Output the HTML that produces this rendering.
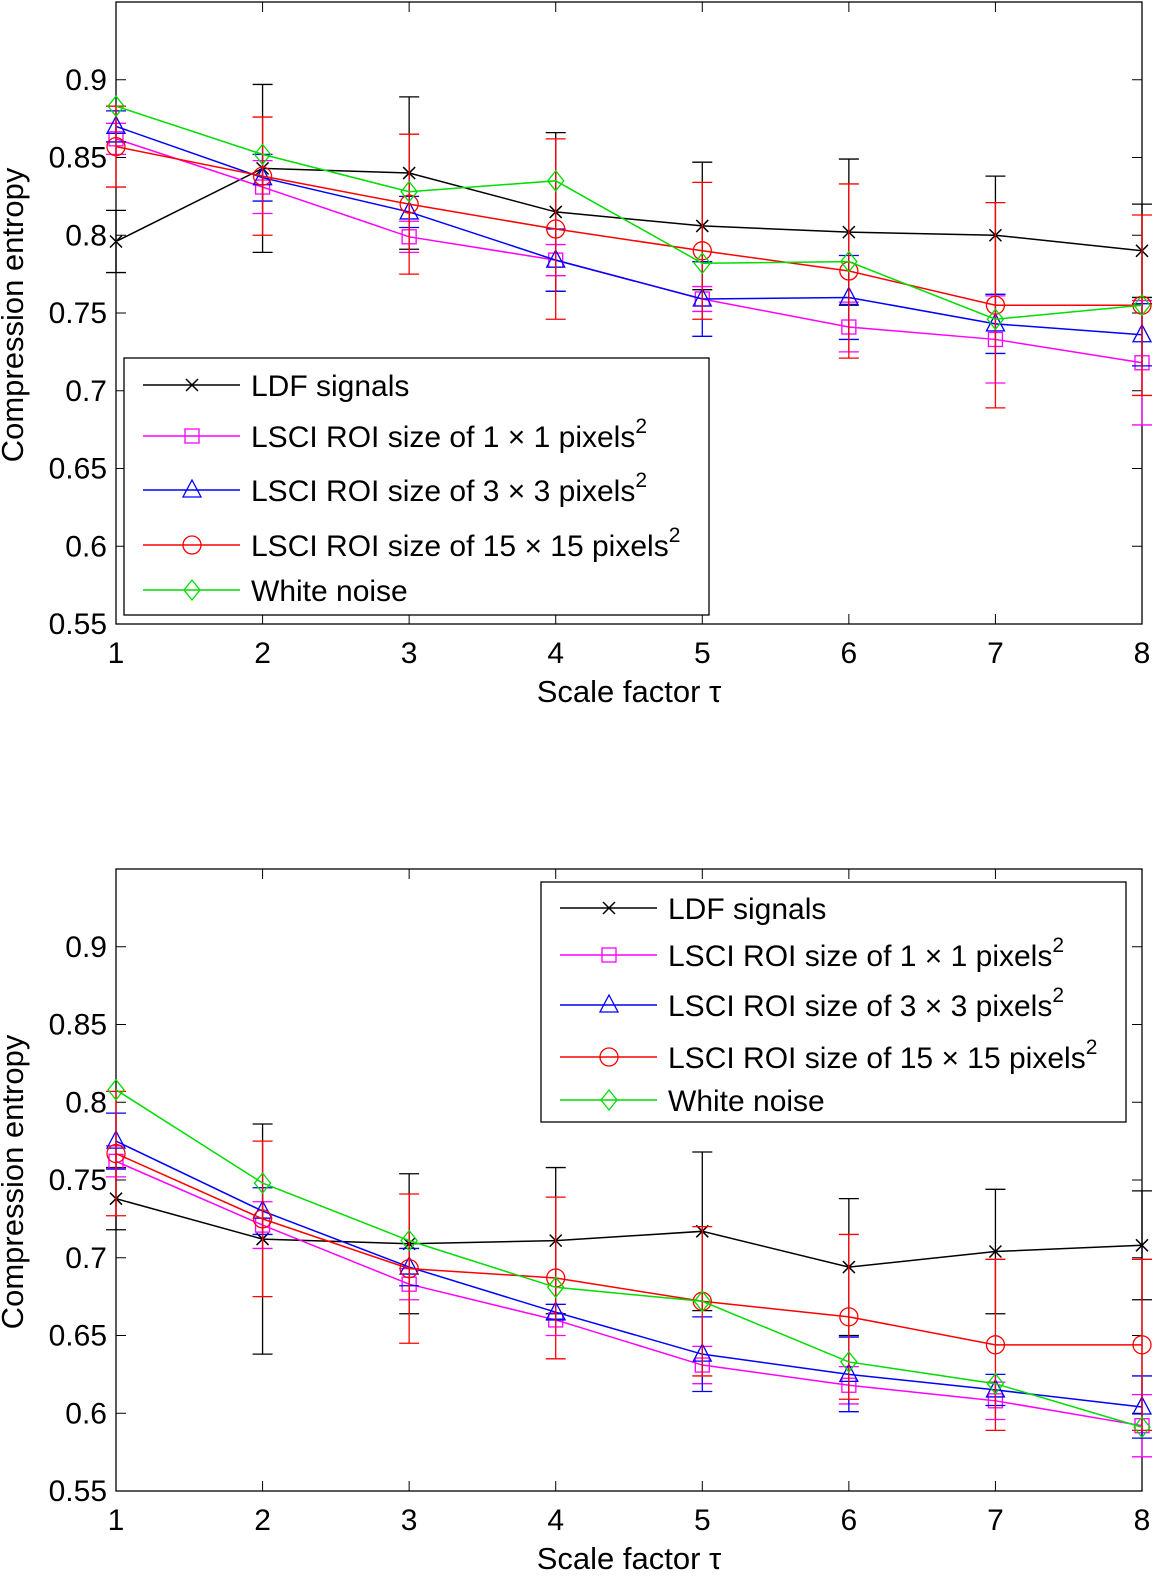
<!DOCTYPE html>
<html><head><meta charset="utf-8"><style>
html,body{margin:0;padding:0;background:#fff;}
svg{display:block;font-family:"Liberation Sans",sans-serif;}
</style></head><body>
<svg id="fig" width="1165" height="1583" viewBox="0 0 1165 1583"></svg>
<script>
const scales=[1,2,3,4,5,6,7,8];
const yTicks=[0.55,0.6,0.65,0.7,0.75,0.8,0.85,0.9];
const yTickLabels=["0.55","0.6","0.65","0.7","0.75","0.8","0.85","0.9"];
const seriesNames=["LDF signals","LSCI ROI size of 1 × 1 pixels","LSCI ROI size of 3 × 3 pixels","LSCI ROI size of 15 × 15 pixels","White noise"];
// top panel
const topLdf=[0.796,0.843,0.840,0.815,0.806,0.802,0.800,0.790];
const topLdfErr=[0.02,0.054,0.049,0.051,0.041,0.047,0.038,0.03];
const topRoi1=[0.862,0.831,0.799,0.784,0.759,0.741,0.733,0.718];
const topRoi1Err=[0.01,0.017,0.01,0.01,0.008,0.016,0.028,0.04];
const topRoi3=[0.870,0.837,0.815,0.784,0.759,0.760,0.743,0.736];
const topRoi3Err=[0.01,0.015,0.01,0.02,0.024,0.027,0.019,0.02];
const topRoi15=[0.857,0.838,0.820,0.804,0.790,0.777,0.755,0.755];
const topRoi15Err=[0.026,0.038,0.045,0.058,0.044,0.056,0.066,0.058];
const topNoise=[0.883,0.852,0.828,0.835,0.782,0.783,0.746,0.755];
// bottom panel
const botLdf=[0.738,0.712,0.709,0.711,0.717,0.694,0.704,0.708];
const botLdfErr=[0.02,0.074,0.045,0.047,0.051,0.044,0.04,0.035];
const botRoi1=[0.762,0.721,0.683,0.660,0.631,0.618,0.608,0.592];
const botRoi1Err=[0.01,0.015,0.01,0.01,0.012,0.012,0.012,0.02];
const botRoi3=[0.775,0.730,0.694,0.665,0.638,0.625,0.615,0.604];
const botRoi3Err=[0.018,0.015,0.012,0.005,0.024,0.024,0.01,0.02];
const botRoi15=[0.767,0.725,0.693,0.687,0.672,0.662,0.644,0.644];
const botRoi15Err=[0.04,0.05,0.048,0.052,0.048,0.053,0.055,0.055];
const botNoise=[0.808,0.748,0.711,0.681,0.672,0.633,0.619,0.591];

const NS="http://www.w3.org/2000/svg";
const svg=document.getElementById('fig');
function mk(tag,attrs,parent){const e=document.createElementNS(NS,tag);for(const k in attrs)e.setAttribute(k,attrs[k]);(parent||svg).appendChild(e);return e;}
const colors=["#000","#ff00ff","#0000ff","#ff0000","#00dd00"];
function marker(g,type,x,y,c){
  let e;
  if(type===0){e=mk('path',{d:`M${x-6} ${y-6}L${x+6} ${y+6}M${x-6} ${y+6}L${x+6} ${y-6}`,stroke:c,'stroke-width':1.5,fill:'none'},g);}
  else if(type===1){e=mk('rect',{x:x-7,y:y-7,width:14,height:14,stroke:c,'stroke-width':1.3,fill:'none'},g);}
  else if(type===2){e=mk('path',{d:`M${x} ${y-10}L${x+9} ${y+7}L${x-9} ${y+7}Z`,stroke:c,'stroke-width':1.3,fill:'none'},g);}
  else if(type===3){e=mk('circle',{cx:x,cy:y,r:9,stroke:c,'stroke-width':1.3,fill:'none'},g);}
  else {e=mk('path',{d:`M${x} ${y-10}L${x+8} ${y}L${x} ${y+10}L${x-8} ${y}Z`,stroke:c,'stroke-width':1.3,fill:'none'},g);}
  return e;
}
function panel(name,top,vals,errs,legX,legY){
  const L=116,R=1142,B=top+622,T=top;
  const g=mk('g',{});
  
  
  const xs=v=>L+(v-1)*(R-L)/7;
  const ys=v=>B-(v-0.55)*(B-T)/0.4;
  mk('rect',{x:L,y:T,width:R-L,height:B-T,fill:'#fff',stroke:'#000','stroke-width':1.3},g);
  yTicks.forEach((t,i)=>{const y=ys(t);
    mk('line',{x1:L,y1:y,x2:L+10,y2:y,stroke:'#000'},g);
    mk('line',{x1:R,y1:y,x2:R-10,y2:y,stroke:'#000'},g);
    const tx=mk('text',{x:L-9,y:y+10,'text-anchor':'end','font-size':30},g);tx.textContent=yTickLabels[i];
    
    });
  scales.forEach(s=>{const x=xs(s);
    mk('line',{x1:x,y1:B,x2:x,y2:B-10,stroke:'#000'},g);
    mk('line',{x1:x,y1:T,x2:x,y2:T+10,stroke:'#000'},g);
    const tx=mk('text',{x:x,y:B+39,'text-anchor':'middle','font-size':30},g);tx.textContent=s;
    
    });
  const xt=mk('text',{x:629,y:B+78,'text-anchor':'middle','font-size':31},g);
  xt.textContent='Scale factor τ';
  
  
  const cy=(T+B)/2+2;
  const yt=mk('text',{x:23,y:cy,'text-anchor':'middle','font-size':31,transform:`rotate(-90 23 ${cy})`},g);
  yt.textContent='Compression entropy';
  
  
  vals.forEach((arr,si)=>{
    const sg=mk('g',{},g);
    
    
    const c=colors[si];
    if(errs[si]){arr.forEach((v,i)=>{const x=xs(scales[i]),e=errs[si][i];const y1=ys(v+e),y2=ys(v-e);
      mk('path',{d:`M${x} ${y1}L${x} ${y2}M${x-10} ${y1}L${x+10} ${y1}M${x-10} ${y2}L${x+10} ${y2}`,stroke:c,'stroke-width':1.3,fill:'none'},sg);});}
    mk('polyline',{points:arr.map((v,i)=>xs(scales[i])+','+ys(v)).join(' '),stroke:c,'stroke-width':1.5,fill:'none'},sg);
    arr.forEach((v,i)=>marker(sg,si,xs(scales[i]),ys(v),c));
  });
  const lg=mk('g',{},g);
  
  
  mk('rect',{x:legX,y:legY,width:585,height:(legY<500?257:240),fill:'#fff',stroke:'#000','stroke-width':1.3},lg);
  const offs=legY<500?[27,78,132,187,232]:[26,73,123,175,218];
  seriesNames.forEach((n,i)=>{const y=legY+offs[i];
    mk('line',{x1:legX+19,y1:y,x2:legX+116,y2:y,stroke:colors[i],'stroke-width':1.5},lg);
    marker(lg,i,legX+68,y,colors[i]);
    const t=mk('text',{x:legX+127,y:y+11,'font-size':30},lg);
    
    
    t.textContent=n;
    if(i>=1&&i<=3){const s=mk('tspan',{dy:-14,'font-size':21},t);s.textContent='2';}
  });
}
panel('top-chart',2,[topLdf,topRoi1,topRoi3,topRoi15,topNoise],[topLdfErr,topRoi1Err,topRoi3Err,topRoi15Err,null],124,358);
panel('bottom-chart',869,[botLdf,botRoi1,botRoi3,botRoi15,botNoise],[botLdfErr,botRoi1Err,botRoi3Err,botRoi15Err,null],541,882);
</script>
</body></html>
